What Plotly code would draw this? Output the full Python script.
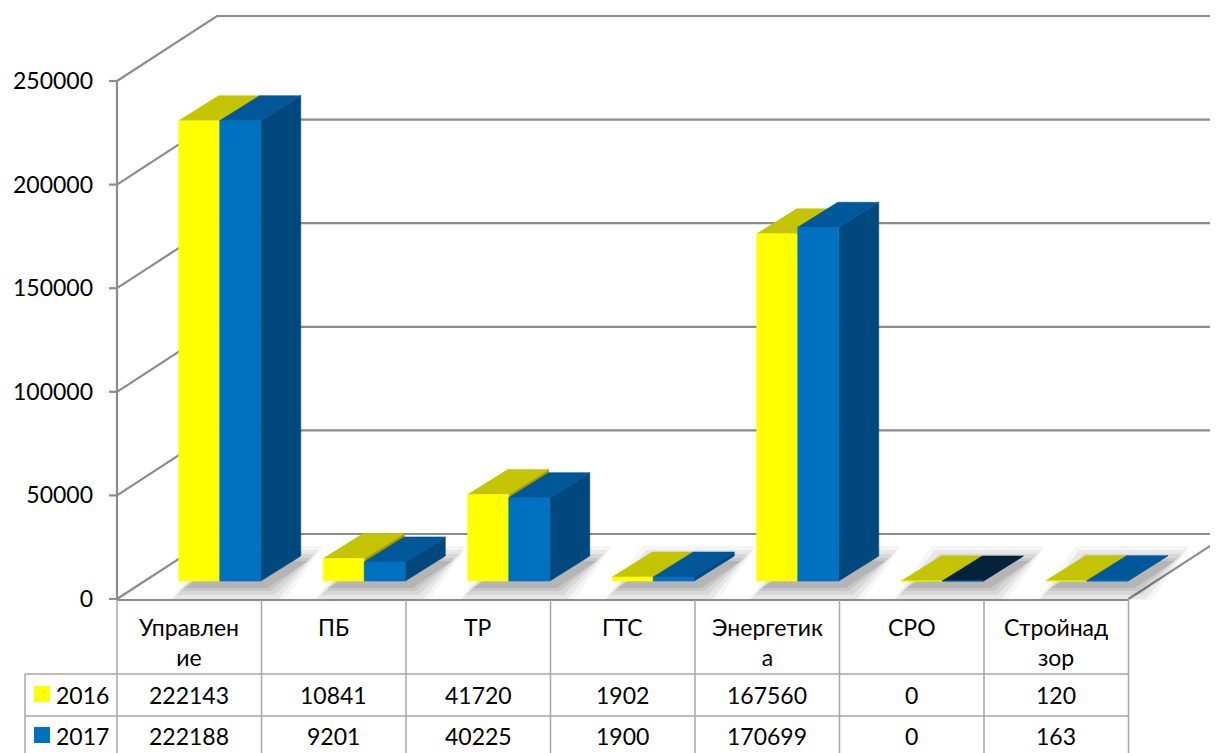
import plotly.graph_objects as go

# ---------------- data ----------------
categories = ["Управление", "ПБ", "ТР", "ГТС", "Энергетика", "СРО", "Стройнадзор"]
table_labels = ["Управлен<br>ие", "ПБ", "ТР", "ГТС", "Энергетик<br>а", "СРО", "Стройнад<br>зор"]
series_names = ["2016", "2017"]
values_2016 = [222143, 10841, 41720, 1902, 167560, 0, 120]
values_2017 = [222188, 9201, 40225, 1900, 170699, 0, 163]
y_ticks = [0, 50000, 100000, 150000, 200000, 250000]

# ---------------- geometry / style ----------------
OFF = 8                      # page body margin
W, H = 1218, 753
ML, MR, MT = 107 - OFF, 0, 0
PLOT_BOTTOM_REF = 600
PH = PLOT_BOTTOM_REF - OFF - MT
MB = H - MT - PH
PW = W - ML - MR
CAT_PX = 144.5
VAL_PX = 518 / 250000.0
X_START = -0.5 - 10 / CAT_PX
XR = [X_START, X_START + PW / CAT_PX]
Y_START = -1 / VAL_PX
YR = [Y_START, Y_START + PH / VAL_PX]


def dxp(px):
    return px / CAT_PX


def dyp(px):
    return px / VAL_PX


FLOOR_D = (dxp(100), dyp(65))
BAR_OFF = (dxp(30.5), dyp(18))
BAR_D = (dxp(40), dyp(25))
BAR_W = dxp(41)

GRID_C = "#8C8C8C"
TABLE_C = "#A6A6A6"
FONT = "Lato, 'Open Sans', sans-serif"
FS = 23

Y_FRONT, Y_TOP, Y_SIDE = "#FFFF00", "#C4C400", "#9E9E00"
B_FRONT, B_TOP, B_SIDE, B_TOP0 = "#0070C0", "#00579A", "#00487E", "#04233A"

fig = go.Figure()


def add_poly(xs, ys, color, opacity=1.0, width=0.6):
    fig.add_trace(go.Scatter(
        x=xs, y=ys, mode="lines", fill="toself", fillcolor=color,
        line=dict(color=color, width=width), opacity=opacity,
        hoverinfo="skip", showlegend=False))


def add_line(xs, ys, color=GRID_C, width=2.2):
    fig.add_trace(go.Scatter(
        x=xs, y=ys, mode="lines", line=dict(color=color, width=width),
        hoverinfo="skip", showlegend=False))


# ---------------- walls: gridlines on left wall and back wall ----------------
gx, gy = [], []
for v in y_ticks:
    gx += [-0.5, -0.5 + FLOOR_D[0], XR[1] + 1, None]
    gy += [v, v + FLOOR_D[1], v + FLOOR_D[1], None]
add_line(gx, gy)
add_line([-0.5, -0.5], [0, y_ticks[-1]])
tx, ty = [], []
for v in y_ticks:
    tx += [-0.5 - dxp(8), -0.5, None]
    ty += [v, v, None]
add_line(tx, ty)
n = len(categories)
add_line([n - 0.5, n - 0.5 + FLOOR_D[0]], [0, FLOOR_D[1]])

# ---------------- soft floor shadows ----------------
for e, op in [(16, 0.04), (12, 0.055), (8, 0.065), (4, 0.075), (1, 0.085)]:
    sx, sy = [], []
    for i in range(n):
        l = i - BAR_W + BAR_OFF[0] + dxp(6)
        r = i + BAR_W + BAR_OFF[0] + dxp(6)
        y0 = BAR_OFF[1] - dyp(6)
        ex, ey = dxp(e), dyp(e)
        sx += [l - ex, r + ex, r + BAR_D[0] + ex, l + BAR_D[0] - ex, l - ex, None]
        sy += [y0 - ey, y0 - ey, y0 + BAR_D[1] + ey, y0 + BAR_D[1] + ey, y0 - ey, None]
    add_poly(sx, sy, "rgba(0,0,0,1)", opacity=op, width=0)


# ---------------- 3D bars ----------------
def faces(vals, x_left):
    front_x, front_y, top_x, top_y, side_x, side_y = [], [], [], [], [], []
    for i, v in enumerate(vals):
        x0 = x_left(i) + BAR_OFF[0]
        x1 = x0 + BAR_W
        b = BAR_OFF[1]
        t = v + BAR_OFF[1]
        dx, dy = BAR_D
        front_x += [x0, x1, x1, x0, x0, None]
        front_y += [b, b, t, t, b, None]
        top_x.append([x0, x1, x1 + dx, x0 + dx, x0, None])
        top_y.append([t, t, t + dy, t + dy, t, None])
        side_x += [x1, x1 + dx, x1 + dx, x1, x1, None]
        side_y += [b, b + dy, t + dy, t, b, None]
    return front_x, front_y, top_x, top_y, side_x, side_y


def flat(lst, idx):
    out = []
    for k in idx:
        out += lst[k]
    return out


for vals, left, cf, ct, cs, ct0 in [
    (values_2016, lambda i: i - BAR_W, Y_FRONT, Y_TOP, Y_SIDE, Y_TOP),
    (values_2017, lambda i: i, B_FRONT, B_TOP, B_SIDE, B_TOP0),
]:
    fx, fy, tx_, ty_, sx_, sy_ = faces(vals, left)
    add_poly(sx_, sy_, cs)
    nz = [k for k, v in enumerate(vals) if v > 0]
    z = [k for k, v in enumerate(vals) if v == 0]
    add_poly(flat(tx_, nz), flat(ty_, nz), ct)
    if z:
        add_poly(flat(tx_, z), flat(ty_, z), ct0)
    add_poly(fx, fy, cf)


# ---------------- data table (below plot) ----------------
def paper_x_data(xd):
    return (xd - XR[0]) / (XR[1] - XR[0])


def paper_x_px(px_ref):
    return (px_ref - OFF - ML) / PW


def paper_y_px(py_ref):
    return (MT + PH - (py_ref - OFF)) / PH


shapes = []


def hline(px0, px1, py, color=TABLE_C, width=1.5):
    shapes.append(dict(type="line", xref="paper", yref="paper",
                       x0=px0, x1=px1, y0=paper_y_px(py), y1=paper_y_px(py),
                       line=dict(color=color, width=width)))


def vline(px, py0, py1, color=TABLE_C, width=1.5):
    shapes.append(dict(type="line", xref="paper", yref="paper",
                       x0=px, x1=px, y0=paper_y_px(py0), y1=paper_y_px(py1),
                       line=dict(color=color, width=width)))


left_p = paper_x_data(-0.5)
right_p = paper_x_data(n - 0.5)
legend_left = paper_x_px(25)
hline(left_p, right_p, 600, GRID_C, 2.2)
hline(legend_left, right_p, 674)
hline(legend_left, right_p, 716)
for k in range(n + 1):
    vline(paper_x_data(-0.5 + k), 600, 770)
vline(legend_left, 674, 770)

annotations = []
for i, lab in enumerate(table_labels):
    annotations.append(dict(x=i, xref="x", y=paper_y_px(611), yref="paper",
                            text=lab, showarrow=False, xanchor="center", yanchor="top",
                            font=dict(family=FONT, size=FS, color="#000000")))
row_y = [695, 736]
for r, (vals, name, col) in enumerate([(values_2016, series_names[0], Y_FRONT),
                                       (values_2017, series_names[1], B_FRONT)]):
    for i, v in enumerate(vals):
        annotations.append(dict(x=i, xref="x", y=paper_y_px(row_y[r]), yref="paper",
                                text=str(v), showarrow=False, xanchor="center",
                                yanchor="middle",
                                font=dict(family=FONT, size=FS, color="#000000")))
    yc = row_y[r] - 1
    shapes.append(dict(type="rect", xref="paper", yref="paper",
                       x0=paper_x_px(34), x1=paper_x_px(50),
                       y0=paper_y_px(yc + 8), y1=paper_y_px(yc - 8),
                       fillcolor=col, line=dict(width=0)))
    annotations.append(dict(x=paper_x_px(54), xref="paper", y=paper_y_px(row_y[r]),
                            yref="paper", text=name, showarrow=False, xanchor="left",
                            yanchor="middle",
                            font=dict(family=FONT, size=FS, color="#000000")))

fig.update_layout(
    width=W, height=H,
    margin=dict(l=ML, r=MR, t=MT, b=MB, pad=0),
    paper_bgcolor="white", plot_bgcolor="white",
    showlegend=False,
    xaxis=dict(range=XR, visible=False, fixedrange=True),
    yaxis=dict(range=YR, tickvals=y_ticks, ticktext=[str(v) for v in y_ticks],
               showgrid=False, zeroline=False, showline=False, ticks="",
               ticklabelstandoff=13,
               tickfont=dict(family=FONT, size=FS, color="#000000"),
               fixedrange=True),
    shapes=shapes,
    annotations=annotations,
)

fig.write_html("out.html")
